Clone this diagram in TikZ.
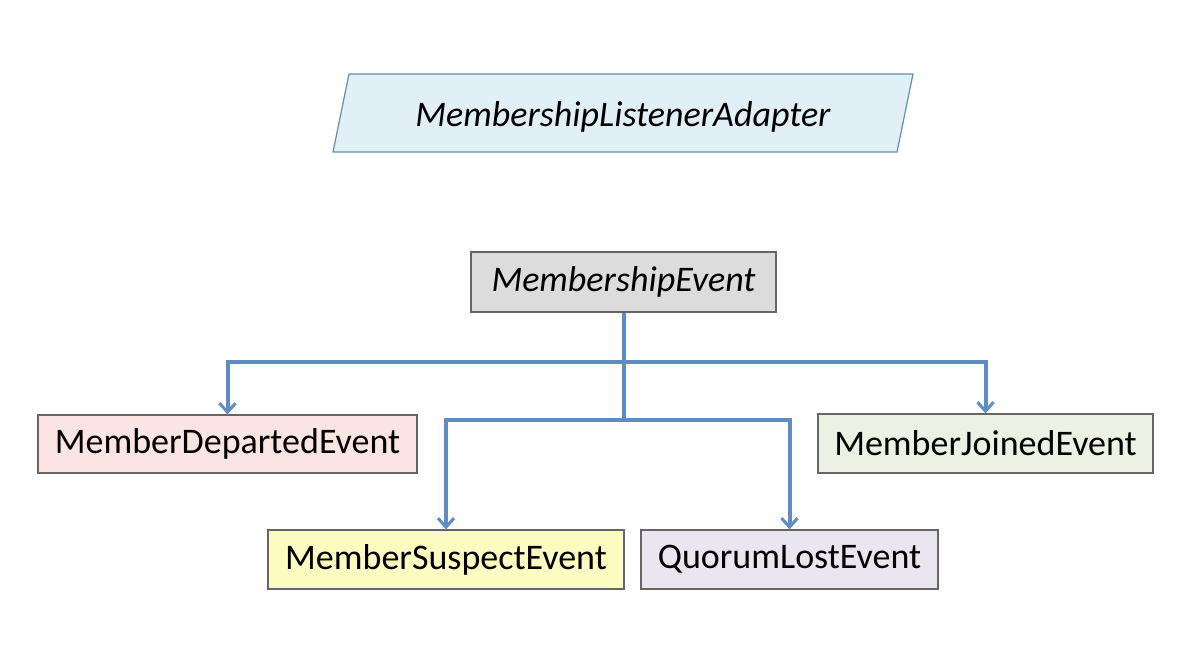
\documentclass[tikz,border=0pt]{standalone}
\usepackage{fontspec}
\setmainfont{Carlito}
\usetikzlibrary{arrows.meta}
\definecolor{conn}{RGB}{95,140,195}
\definecolor{pblue}{RGB}{225,240,246}
\definecolor{pbord}{RGB}{100,140,180}
\definecolor{gfill}{RGB}{220,220,220}
\definecolor{redf}{RGB}{252,228,226}
\definecolor{greenf}{RGB}{236,241,227}
\definecolor{yelf}{RGB}{252,252,192}
\definecolor{purf}{RGB}{234,230,240}
\begin{document}
\begin{tikzpicture}[x=1pt,y=-1pt,
 box/.style={draw=gray!80!black,line width=1.2pt,inner sep=0pt,font=\fontsize{36}{42}\selectfont},
 line/.style={draw=conn,line width=4pt},
 conn/.style={line,-{Straight Barb[length=9pt,width=16pt,line width=3pt]}}]
\useasboundingbox (0,0) rectangle (1200,662);
\fill[pblue,draw=pbord,line width=1.2pt] (349,74) -- (913,74) -- (897,152) -- (333,152) -- cycle;
\node[font=\fontsize{36}{42}\selectfont\itshape] (adapter) at (623,117) {MembershipListenerAdapter};
\node[box,fill=gfill,minimum width=305pt,minimum height=60pt,font=\fontsize{36}{42}\selectfont\itshape] (ev) at (623.5,282) {MembershipEvent};
\node[box,fill=redf,minimum width=379pt,minimum height=58pt] (dep) at (227.5,444) {MemberDepartedEvent};
\node[box,fill=greenf,minimum width=335pt,minimum height=59pt] (join) at (985.5,443.5) {MemberJoinedEvent};
\node[box,fill=yelf,minimum width=356pt,minimum height=59pt] (sus) at (446,559.5) {MemberSuspectEvent};
\node[box,fill=purf,minimum width=297pt,minimum height=59pt] (quo) at (789.5,559.5) {QuorumLostEvent};
\coordinate (j1) at (624,362);
\coordinate (j2) at (624,420);
\draw[line] (ev.south -| j1) -- (j2);
\draw[conn] (j1) -| (dep.north);
\draw[conn] (j1) -| (join.north);
\draw[conn] (j2) -| (sus.north);
\draw[conn] (j2) -| (quo.north);
\end{tikzpicture}
\end{document}
